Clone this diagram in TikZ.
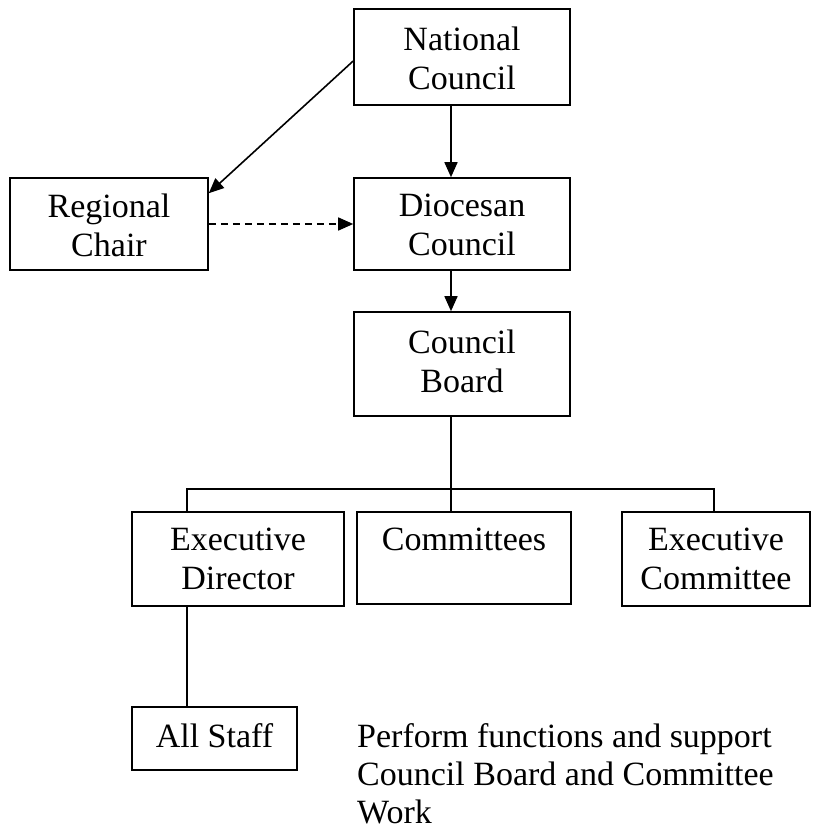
\documentclass[tikz,border=0pt]{standalone}
\usepackage{fontspec}
\setmainfont{Liberation Serif}
\usetikzlibrary{arrows.meta}
\begin{document}
\begin{tikzpicture}[x=1pt,y=-1pt,
  box/.style={draw, line width=1.6pt, inner sep=0pt, rectangle},
  lbl/.style={anchor=north, align=center, inner sep=0pt, font=\fontsize{34}{39}\selectfont},
  link/.style={line width=1.6pt},
  arr/.style={link, -{Triangle[length=15pt,width=13pt]}},
]
\useasboundingbox (0,0) rectangle (840,829);

% boxes
\node[box, minimum width=216, minimum height=96]  (nc) at (462,57) {};
\node[box, minimum width=198, minimum height=92]  (rc) at (109,224) {};
\node[box, minimum width=216, minimum height=92]  (dc) at (462,224) {};
\node[box, minimum width=216, minimum height=104] (cb) at (462,364) {};
\node[box, minimum width=212, minimum height=94]  (ed) at (238,559) {};
\node[box, minimum width=214, minimum height=92]  (cm) at (464,558) {};
\node[box, minimum width=188, minimum height=94]  (ec) at (716,559) {};
\node[box, minimum width=165, minimum height=63]  (as) at (214.5,738.5) {};

% labels
\node[lbl] (tnc) at ([yshift=-19pt]nc.north) {National\\Council};
\node[lbl] (trc) at ([yshift=-17pt]rc.north) {Regional\\Chair};
\node[lbl] (tdc) at ([yshift=-17pt]dc.north) {Diocesan\\Council};
\node[lbl] (tcb) at ([yshift=-19pt]cb.north) {Council\\Board};
\node[lbl] (ted) at ([yshift=-17pt]ed.north) {Executive\\Director};
\node[lbl] (tcm) at ([yshift=-17pt]cm.north) {Committees};
\node[lbl] (tec) at ([yshift=-17pt]ec.north) {Executive\\Committee};
\node[lbl] (tas) at ([yshift=-17pt]as.north) {All Staff};
\node[lbl, anchor=north west, align=left, font=\fontsize{34}{38}\selectfont] (note) at (357,723)
  {Perform functions and support\\Council Board and Committee\\Work};

% connectors
\coordinate (cx) at (451,0);
\draw[arr] (cx |- nc.south) -- (cx |- dc.north);
\draw[arr] ([yshift=-4pt]nc.west) -- ([yshift=-16pt]rc.north east);
\draw[arr, dashed, dash pattern=on 7pt off 5pt] (rc.east) -- (dc.west);
\draw[arr] (cx |- dc.south) -- (cx |- cb.north);

\coordinate (jl) at (187,489);
\coordinate (jr) at (714,489);
\draw[link] (cx |- cb.south) -- (cx |- cm.north);
\draw[link] (jl |- ed.north) -- (jl) -- (jr) -- (jr |- ec.north);
\draw[link] (jl |- ed.south) -- (jl |- as.north);
\end{tikzpicture}
\end{document}
